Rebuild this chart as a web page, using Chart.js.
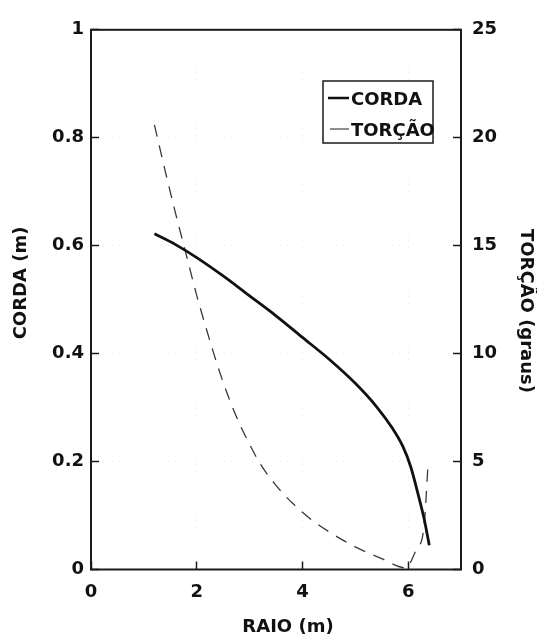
<!DOCTYPE html>
<html>
<head>
<meta charset="utf-8">
<script src="https://cdn.jsdelivr.net/npm/chart.js@4.4.1/dist/chart.umd.min.js"></script>
<style>
  body { margin: 0; background: #fff; }
  #wrap { width: 537px; height: 634px; }
</style>
</head>
<body>
<div id="wrap"><canvas id="myChart" width="537" height="634"></canvas></div>
<script>
// corda (m) ao longo do raio
const raioCorda = [1.2, 1.6, 2.0, 2.5, 3.0, 3.5, 4.0, 4.5, 5.0, 5.4, 5.7, 5.9, 6.05, 6.2, 6.3, 6.4];
const corda = [0.622, 0.602, 0.578, 0.544, 0.507, 0.47, 0.43, 0.39, 0.345, 0.302, 0.262, 0.228, 0.19, 0.135, 0.095, 0.045];

// torção (graus) ao longo do raio
const raioTorcao = [1.2, 1.4, 1.6, 1.8, 2.0, 2.2, 2.4, 2.6, 2.8, 3.0, 3.2, 3.5, 3.8, 4.2, 4.6, 5.0, 5.5, 5.95, 6.15, 6.3, 6.38];
const torcao = [20.6, 18.5, 16.5, 14.6, 12.7, 11.0, 9.4, 8.0, 6.8, 5.8, 4.9, 3.9, 3.1, 2.25, 1.6, 1.05, 0.5, 0.08, 0.9, 2.0, 5.0];

const xTicks = [0, 2, 4, 6];
const cordaTicks = [0, 0.2, 0.4, 0.6, 0.8, 1];
const torcaoTicks = [0, 5, 10, 15, 20, 25];

const fonte = 'bold 18px "DejaVu Sans"';
const preto = '#111';

function pares(xs, ys) {
  return xs.map((x, i) => ({ x: x, y: ys[i] }));
}

// moldura, títulos e legenda desenhados por cima
const extras = {
  id: 'extras',
  afterDraw(chart) {
    const ctx = chart.ctx;
    const a = chart.chartArea;
    ctx.save();
    ctx.strokeStyle = '#1a1a1a';
    ctx.lineWidth = 2;
    ctx.strokeRect(a.left, a.top, a.right - a.left, a.bottom - a.top);

    ctx.fillStyle = preto;
    ctx.font = fonte;
    ctx.textAlign = 'center';
    ctx.textBaseline = 'middle';
    ctx.fillText('RAIO (m)', 288, 627);

    ctx.save();
    ctx.translate(21, 283);
    ctx.rotate(-Math.PI / 2);
    ctx.fillText('CORDA (m)', 0, 0);
    ctx.restore();

    ctx.save();
    ctx.translate(526, 311);
    ctx.rotate(Math.PI / 2);
    ctx.fillText('TORÇÃO (graus)', 0, 0);
    ctx.restore();

    // legenda
    ctx.fillStyle = '#fff';
    ctx.fillRect(323, 81, 110, 62);
    ctx.strokeStyle = '#1a1a1a';
    ctx.lineWidth = 1.5;
    ctx.strokeRect(323, 81, 110, 62);

    ctx.strokeStyle = '#111';
    ctx.lineWidth = 2.5;
    ctx.beginPath();
    ctx.moveTo(328, 98);
    ctx.lineTo(349, 98);
    ctx.stroke();

    ctx.strokeStyle = '#444';
    ctx.lineWidth = 1.2;
    ctx.beginPath();
    ctx.moveTo(330, 129);
    ctx.lineTo(349, 129);
    ctx.stroke();

    ctx.fillStyle = preto;
    ctx.font = fonte;
    ctx.textAlign = 'left';
    ctx.textBaseline = 'alphabetic';
    ctx.fillText('CORDA', 351, 105);
    ctx.fillText('TORÇÃO', 351, 136);
    ctx.restore();
  }
};

const grade = {
  color: 'rgba(0,0,0,0.09)',
  lineWidth: 1,
  tickColor: '#1a1a1a',
  tickWidth: 1.5,
  tickLength: -8
};

const fonteTicks = { family: 'DejaVu Sans', size: 18, weight: 'bold' };

new Chart(document.getElementById('myChart'), {
  type: 'line',
  data: {
    datasets: [
      {
        label: 'CORDA',
        data: pares(raioCorda, corda),
        yAxisID: 'y',
        borderColor: '#111',
        borderWidth: 2.8,
        pointRadius: 0,
        cubicInterpolationMode: 'monotone',
        fill: false
      },
      {
        label: 'TORÇÃO',
        data: pares(raioTorcao, torcao),
        yAxisID: 'y2',
        borderColor: '#3a3a3a',
        borderWidth: 1.3,
        borderDash: [12, 9],
        pointRadius: 0,
        cubicInterpolationMode: 'monotone',
        fill: false
      }
    ]
  },
  options: {
    responsive: false,
    animation: false,
    layout: { padding: { top: 23, left: 0, right: 0, bottom: 0 } },
    plugins: {
      legend: { display: false },
      tooltip: { enabled: false }
    },
    scales: {
      x: {
        type: 'linear',
        min: 0,
        max: 7,
        afterBuildTicks: s => { s.ticks = xTicks.map(v => ({ value: v })); },
        afterFit: s => { s.height = 64.5; },
        grid: grade,
        border: { display: false, dash: [1, 6] },
        ticks: { color: preto, font: fonteTicks, padding: 20, maxRotation: 0, callback: v => String(v) }
      },
      y: {
        position: 'left',
        min: 0,
        max: 1,
        afterBuildTicks: s => { s.ticks = cordaTicks.map(v => ({ value: v })); },
        afterFit: s => { s.width = 91; },
        grid: grade,
        border: { display: false, dash: [1, 6] },
        ticks: { color: preto, font: fonteTicks, padding: 15, callback: v => String(v) }
      },
      y2: {
        position: 'right',
        min: 0,
        max: 25,
        afterBuildTicks: s => { s.ticks = torcaoTicks.map(v => ({ value: v })); },
        afterFit: s => { s.width = 76; },
        grid: Object.assign({}, grade, { drawOnChartArea: false }),
        border: { display: false },
        ticks: { color: preto, font: fonteTicks, padding: 19, callback: v => String(v) }
      }
    }
  },
  plugins: [extras]
});
</script>
</body>
</html>
